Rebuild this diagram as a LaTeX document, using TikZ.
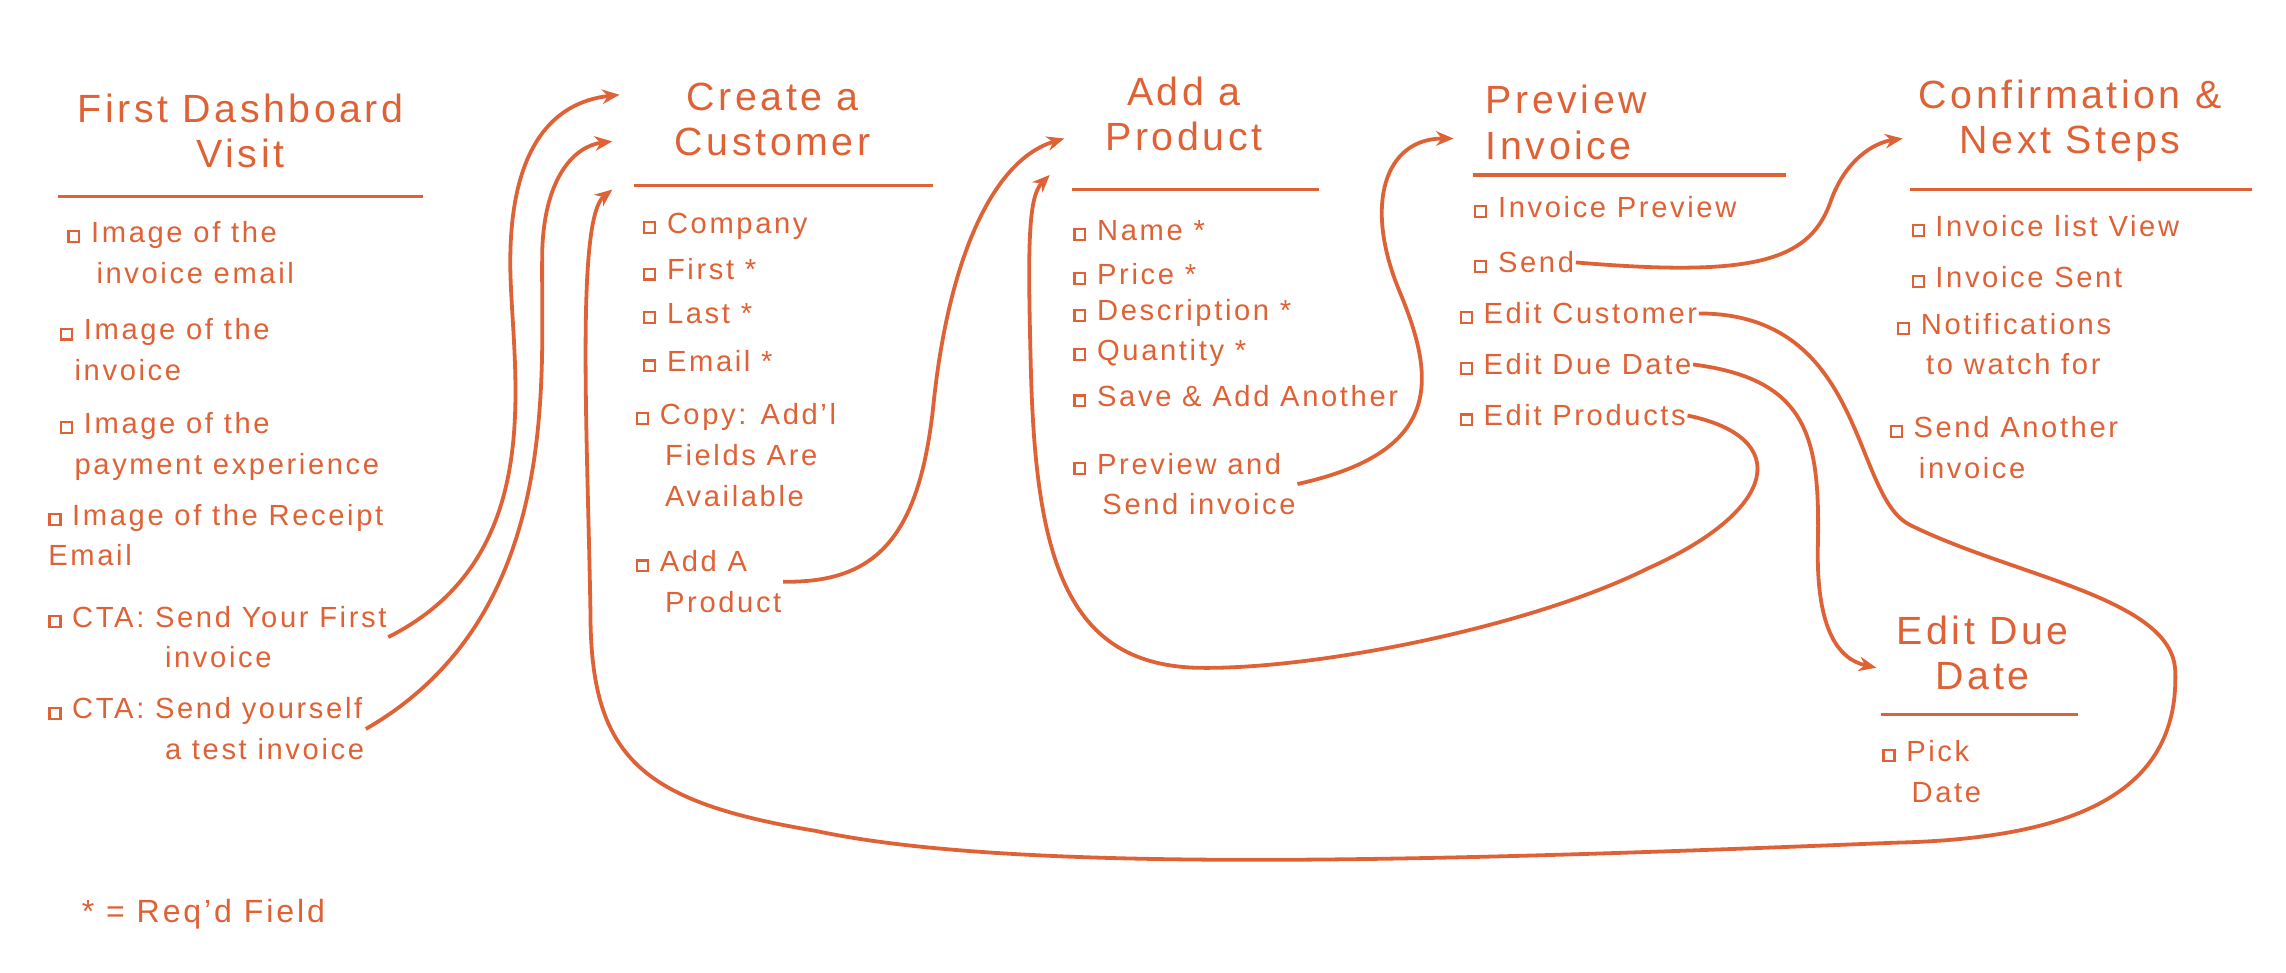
\documentclass[tikz,border=0pt]{standalone}
\usepackage{fontspec}
\usetikzlibrary{arrows.meta}
\setmainfont[LetterSpace=9]{Liberation Sans}
\definecolor{ink}{HTML}{DE6236}
\newcommand{\bx}{{\setlength{\fboxsep}{0pt}\setlength{\fboxrule}{1.5pt}\raisebox{1pt}{\fbox{\rule{0pt}{6pt}\hspace{6pt}}}}\ }
\begin{document}
\begin{tikzpicture}[x=1pt,y=-1pt,
  every node/.style={text=ink,inner sep=1pt},
  ttl/.style={font=\fontsize{27}{31}\selectfont,align=center},
  itm/.style={anchor=west,font=\fontsize{20}{28}\selectfont,align=left},
  rule/.style={draw=ink,line width=2.2pt},
  con/.style={draw=ink,line width=2.6pt,-{Stealth[length=12pt,width=10pt]}},
  ]
\useasboundingbox (0,0) rectangle (1568,667);
% column 1
\node[ttl] (t1) at (165,90) {First Dashboard\\Visit};
\draw[rule] (40,135) -- (290,135);
\node[itm] (a1) at (45,173) {\bx Image of the\\\hspace{1em}invoice email};
\node[itm] (a2) at (40,240) {\bx Image of the\\\hspace{0.5em}invoice};
\node[itm] (a3) at (40,306) {\bx Image of the\\\hspace{0.5em}payment experience};
\node[itm] (a4) at (32,367) {\bx Image of the Receipt\\Email};
\node[itm] (a5) at (32,437) {\bx CTA: Send Your First\\\hspace{4em}invoice};
\node[itm] (a6) at (32,500) {\bx CTA: Send yourself\\\hspace{4em}a test invoice};
\node[anchor=west,font=\fontsize{22}{25}\selectfont] (leg) at (55,627) {* = Req'd Field};
% column 2
\node[ttl] (t2) at (530,82) {Create a\\Customer};
\draw[rule] (435,127) -- (640,127);
\node[itm] (b1) at (440,155) {\bx Company};
\node[itm] (b2) at (440,185) {\bx First *};
\node[itm] (b3) at (440,215) {\bx Last *};
\node[itm] (b4) at (440,248) {\bx Email *};
\node[itm] (b5) at (435,312) {\bx Copy: Add'l\\\hspace{1em}Fields Are\\\hspace{1em}Available};
\node[itm] (b6) at (435,399) {\bx Add A\\\hspace{1em}Product};
% column 3
\node[ttl] (t3) at (812,78) {Add a\\Product};
\draw[rule] (735,130) -- (905,130);
\node[itm] (c1) at (735,158) {\bx Name *};
\node[itm] (c2) at (735,188) {\bx Price *};
\node[itm] (c3) at (735,215) {\bx Description *};
\node[itm] (c4) at (735,242) {\bx Quantity *};
\node[itm] (c5) at (735,272) {\bx Save \& Add Another};
\node[itm] (c6) at (735,332) {\bx Preview and\\\hspace{1em}Send invoice};
% column 4
\node[ttl,align=left,anchor=west] (t4) at (1018,84) {Preview\\Invoice};
\draw[rule] (1010,120) -- (1225,120);
\node[itm] (d1) at (1010,142) {\bx Invoice Preview};
\node[itm] (d2) at (1010,180) {\bx Send};
\node[itm] (d3) at (1000,215) {\bx Edit Customer};
\node[itm] (d4) at (1000,250) {\bx Edit Due Date};
\node[itm] (d5) at (1000,285) {\bx Edit Products};
% column 5
\node[ttl] (t5) at (1420,83) {Confirmation \&\\Next Steps};
\draw[rule] (1310,130) -- (1545,130);
\node[itm] (e1) at (1310,155) {\bx Invoice list View};
\node[itm] (e2) at (1310,190) {\bx Invoice Sent};
\node[itm] (e3) at (1300,236) {\bx Notifications\\\hspace{1em}to watch for};
\node[itm] (e4) at (1295,307) {\bx Send Another\\\hspace{1em}invoice};
% column 6
\node[ttl] (t6) at (1360,448) {Edit Due\\Date};
\draw[rule] (1290,490) -- (1425,490);
\node[itm] (f1) at (1290,529) {\bx Pick\\\hspace{1em}Date};
% connectors
\coordinate (p1) at (425,65);
\coordinate (p2) at (420,97);
\coordinate (p3) at (420,130);
\coordinate (p4) at (730,95);
\coordinate (p5) at (720,120);
\coordinate (p6) at (997,95);
\coordinate (p7) at (1305,95);
\coordinate (p8) at (1287,458);
\draw[con] (a5.east) .. controls (380,380) and (350,250) .. (350,180) .. controls (350,100) and (380,70) .. (p1);
\draw[con] (a6.east) .. controls (390,420) and (370,250) .. (372,170) .. controls (374,120) and (395,100) .. (p2);
\draw[con] (d3.east) .. controls (1280,215) and (1270,340) .. (1310,360) .. controls (1380,395) and (1490,410) .. (1492,460) .. controls (1495,540) and (1430,575) .. (1300,578) .. controls (1000,590) and (700,600) .. (560,570) .. controls (440,550) and (405,520) .. (405,420) .. controls (403,300) and (395,150) .. (p3);
\draw[con] (b6.east) .. controls (600,400) and (630,370) .. (640,280) .. controls (650,180) and (680,110) .. (p4);
\draw[con] (d5.east) .. controls (1230,300) and (1220,350) .. (1130,390) .. controls (1050,430) and (900,460) .. (820,458) .. controls (730,455) and (710,380) .. (707,250) .. controls (705,170) and (705,135) .. (p5);
\draw[con] (c6.east) .. controls (990,310) and (985,260) .. (960,200) .. controls (935,140) and (950,95) .. (p6);
\draw[con] (d2.east) .. controls (1200,190) and (1240,180) .. (1255,140) .. controls (1265,110) and (1285,98) .. (p7);
\draw[con] (d4.east) .. controls (1240,260) and (1248,300) .. (1247,370) .. controls (1245,430) and (1260,452) .. (p8);
\end{tikzpicture}
\end{document}
